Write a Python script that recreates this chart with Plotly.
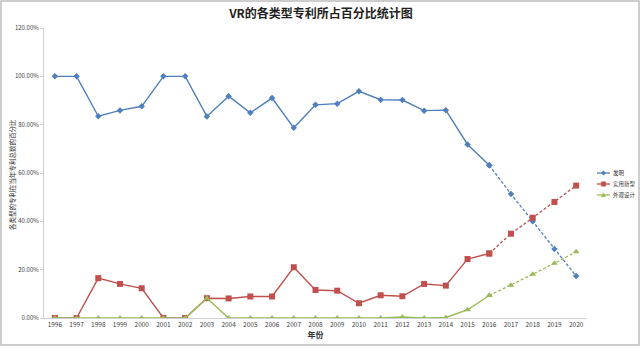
import plotly.graph_objects as go

years = list(range(1996, 2021))

# share of each patent type per year (fraction of total)
invention = [1.000, 1.000, 0.835, 0.859, 0.876, 1.000, 1.000, 0.834, 0.918, 0.849, 0.910,
             0.787, 0.882, 0.887, 0.938, 0.903, 0.902, 0.858, 0.860, 0.718, 0.632,
             0.513, 0.400, 0.286, 0.174]
utility = [0.000, 0.000, 0.165, 0.141, 0.123, 0.000, 0.000, 0.082, 0.081, 0.089, 0.089,
           0.210, 0.116, 0.113, 0.061, 0.094, 0.090, 0.141, 0.134, 0.244, 0.267,
           0.349, 0.415, 0.480, 0.548]
design = [0.000, 0.000, 0.000, 0.000, 0.000, 0.000, 0.000, 0.082, 0.000, 0.000, 0.000,
          0.000, 0.000, 0.000, 0.000, 0.000, 0.004, 0.000, 0.002, 0.034, 0.093,
          0.136, 0.181, 0.227, 0.274]

series_names = ["发明", "实用新型", "外观设计"]
colors = ["#4F7FBD", "#C0504D", "#9BBB59"]
symbols = ["diamond", "square", "triangle-up"]
sizes = [5, 6, 6]

split_year = 2016  # solid up to this year, dashed afterwards
k = years.index(split_year)

fig = go.Figure()
for name, vals, c, s, sz in zip(series_names, [invention, utility, design], colors, symbols, sizes):
    fig.add_trace(go.Scatter(
        x=years[:k + 1], y=vals[:k + 1], name=name, mode="lines+markers",
        line=dict(color=c, width=1.4),
        marker=dict(symbol=s, size=sz, color=c),
        showlegend=False,
    ))
    fig.add_trace(go.Scatter(
        x=years[k:], y=vals[k:], name=name, mode="lines+markers",
        line=dict(color=c, width=1.3, dash="3px,2px"),
        marker=dict(symbol=s, size=sz, color=c),
        showlegend=False,
    ))

font_family = "Noto Sans CJK SC, Noto Sans, sans-serif"
L, R, T, B = 44, 55, 28, 30
plot_w = 642 - L - R
plot_h = 348 - T - B


def px_x(px):
    return (px - L) / plot_w


def px_y(py):
    return (348 - B - py) / plot_h


def marker_path(symbol, cx, cy, r):
    if symbol == "diamond":
        pts = [(cx, cy - r), (cx + r, cy), (cx, cy + r), (cx - r, cy)]
    elif symbol == "square":
        pts = [(cx - r, cy - r), (cx + r, cy - r), (cx + r, cy + r), (cx - r, cy + r)]
    else:
        pts = [(cx, cy - r), (cx + r, cy + r * 0.8), (cx - r, cy + r * 0.8)]
    return "M " + " L ".join(f"{px_x(x):.5f},{px_y(y):.5f}" for x, y in pts) + " Z"


# border around the whole chart
shapes = [dict(type="rect", xref="paper", yref="paper",
               x0=px_x(1), x1=px_x(639), y0=px_y(345), y1=px_y(1),
               line=dict(color="#bdbdbd", width=1.5))]
annotations = [dict(text="各类型的专利在当年专利总数的百分比", textangle=-90,
                    xref="paper", yref="paper", x=px_x(12), y=px_y(175),
                    xanchor="center", yanchor="middle", showarrow=False,
                    font=dict(size=6.5, color="#333333"))]

# legend drawn on the right
leg_y = [173, 184, 195]
for name, c, s, yy in zip(series_names, colors, symbols, leg_y):
    shapes.append(dict(type="line", xref="paper", yref="paper",
                       x0=px_x(597), x1=px_x(610), y0=px_y(yy), y1=px_y(yy),
                       line=dict(color=c, width=1.3)))
    shapes.append(dict(type="path", xref="paper", yref="paper",
                       path=marker_path(s, 603.5, yy, 2.2),
                       fillcolor=c, line=dict(color=c, width=0.5)))
    annotations.append(dict(text=name, xref="paper", yref="paper",
                            x=px_x(611), y=px_y(yy), xanchor="left", yanchor="middle",
                            showarrow=False, font=dict(size=5.5, color="#333333")))

fig.update_layout(
    width=642, height=348,
    margin=dict(l=L, r=R, t=T, b=B, autoexpand=False),
    paper_bgcolor="white", plot_bgcolor="white",
    font=dict(family=font_family, color="#404040", size=7),
    title=dict(text="<b>VR的各类型专利所占百分比统计图</b>", x=0.5, xanchor="center",
               y=1 - 14 / 348, yanchor="middle",
               font=dict(size=12, color="#222222", family=font_family)),
    xaxis=dict(range=[1995.5, 2020.5], tickmode="array", tickvals=years,
               ticktext=[str(y) for y in years], showgrid=False, zeroline=False,
               showline=True, linecolor="#d0d0d0", linewidth=1, automargin=False,
               ticks="", tickfont=dict(size=6.5, color="#404040"),
               title=dict(text="<b>年份</b>", font=dict(size=8, color="#333333"), standoff=2)),
    yaxis=dict(range=[0, 1.2], tickvals=[0, 0.2, 0.4, 0.6, 0.8, 1.0, 1.2],
               tickformat=".2%", showgrid=False, zeroline=False, automargin=False,
               showline=True, linecolor="#d0d0d0", linewidth=1,
               ticks="outside", ticklen=3, tickcolor="#d0d0d0",
               tickfont=dict(size=6, color="#404040")),
    showlegend=False,
    annotations=annotations,
    shapes=shapes,
)

fig.write_html("out.html")
